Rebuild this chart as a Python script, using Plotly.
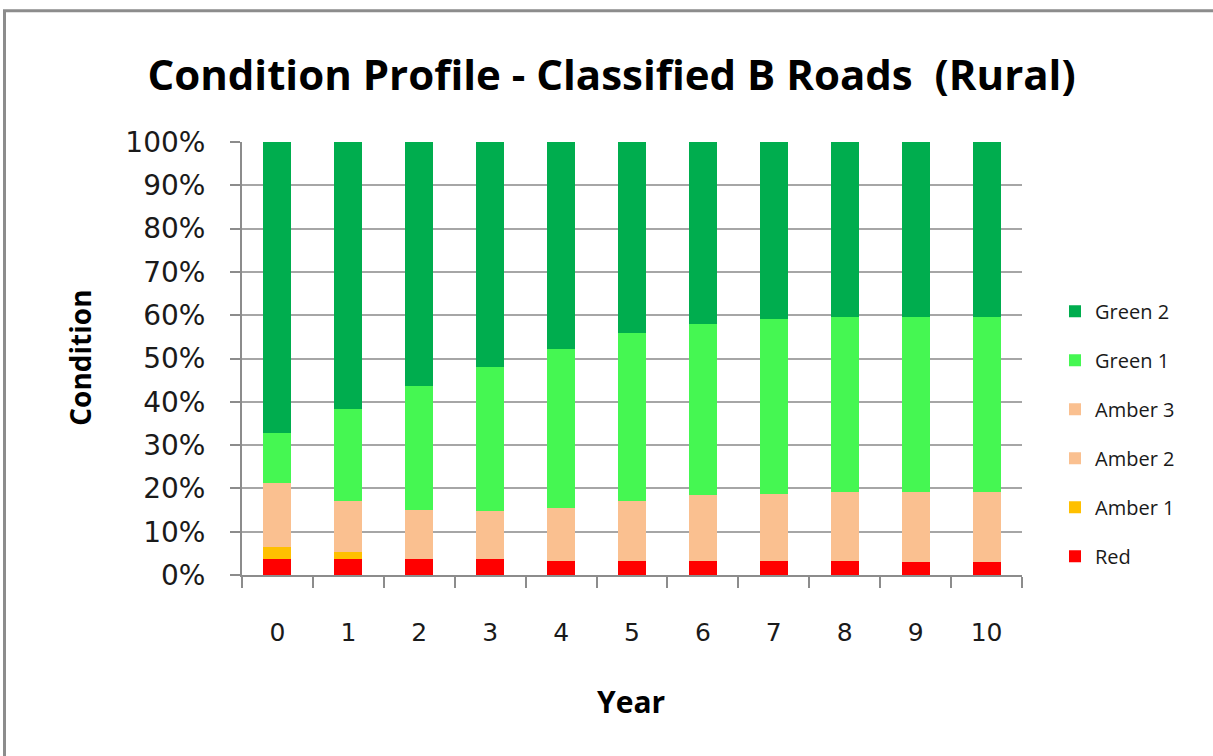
import plotly.graph_objects as go

years = ["0", "1", "2", "3", "4", "5", "6", "7", "8", "9", "10"]
red = [3.7, 3.7, 3.7, 3.7, 3.3, 3.3, 3.3, 3.3, 3.3, 2.9, 2.9]
amber1 = [2.8, 1.7, 0, 0, 0, 0, 0, 0, 0, 0, 0]
amber2 = [14.8, 11.8, 11.4, 11.0, 12.2, 13.8, 15.1, 15.5, 15.9, 16.3, 16.3]
amber3 = [0, 0, 0, 0, 0, 0, 0, 0, 0, 0, 0]
green1 = [11.4, 21.2, 28.6, 33.4, 36.7, 38.8, 39.5, 40.4, 40.3, 40.3, 40.3]
green2 = [67.3, 61.6, 56.3, 51.9, 47.8, 44.1, 42.1, 40.8, 40.5, 40.5, 40.5]

series = [
    ("Red", red, "#FF0000"),
    ("Amber 1", amber1, "#FFC000"),
    ("Amber 2", amber2, "#FAC090"),
    ("Amber 3", amber3, "#FAC090"),
    ("Green 1", green1, "#45F752"),
    ("Green 2", green2, "#00AD4E"),
]

fig = go.Figure()
n = len(series)
for i, (name, vals, col) in enumerate(series):
    fig.add_trace(go.Bar(
        x=years, y=vals, name=name, legendgroup=name,
        legendrank=1000 + (n - i),
        marker=dict(color=col, line=dict(width=0)),
    ))

L, R, T, B = 242, 1022, 142, 575.5
W, H = 1213, 756
pw, ph = R - L, B - T

def px(x):
    return (x - L) / pw

def py(y):
    return (B - y) / ph

fig.update_layout(
    width=W, height=H,
    margin=dict(l=L, r=W - R, t=T, b=H - B, pad=0),
    barmode="stack", bargap=0.606,
    plot_bgcolor="white", paper_bgcolor="white",
    showlegend=True,
    legend=dict(
        x=px(1055), y=py(292), xanchor="left", yanchor="top",
        traceorder="grouped", tracegroupgap=20,
        font=dict(family="Open Sans", size=20, color="#1a1a1a"),
        itemwidth=30, bgcolor="rgba(0,0,0,0)",
    ),
    title=dict(
        text="<b>Condition Profile - Classified B Roads  (Rural)</b>",
        x=611.5 / W, xanchor="center", y=1 - 75 / H, yanchor="middle",
        font=dict(family="Open Sans", size=42, color="black"),
    ),
    xaxis=dict(
        type="category", showgrid=False, showline=True,
        linecolor="#8c8c8c", linewidth=2,
        ticks="outside", ticklen=11, tickwidth=2, tickcolor="#8c8c8c",
        tickson="boundaries",
        tickfont=dict(family="DejaVu Sans", size=25, color="#1a1a1a"),
        ticklabelstandoff=34,
    ),
    yaxis=dict(
        range=[0, 100], dtick=10, ticksuffix="%",
        showgrid=True, gridcolor="#a6a6a6", gridwidth=2,
        showline=True, linecolor="#8c8c8c", linewidth=2,
        ticks="outside", ticklen=10, tickwidth=2, tickcolor="#8c8c8c",
        tickfont=dict(family="DejaVu Sans", size=28, color="#1a1a1a"),
        ticklabelstandoff=19, zeroline=False,
    ),
    annotations=[
        dict(text="<b>Condition</b>", x=px(80), y=py(358), xref="paper", yref="paper",
             showarrow=False, textangle=-90, xanchor="center", yanchor="middle",
             font=dict(family="Open Sans", size=28, color="black")),
        dict(text="<b>Year</b>", x=px(631), y=py(701.7), xref="paper", yref="paper",
             showarrow=False, xanchor="center", yanchor="middle",
             font=dict(family="Open Sans", size=30, color="black")),
    ],
    shapes=[
        dict(type="rect", xref="paper", yref="paper",
             x0=px(4.5), x1=px(1240), y0=py(800), y1=py(10.5),
             line=dict(color="#8c8c8c", width=3), fillcolor="rgba(0,0,0,0)", layer="above"),
    ],
)

fig.write_html("out.html", config={"displayModeBar": False},
               post_script="document.body.style.margin='0';")
